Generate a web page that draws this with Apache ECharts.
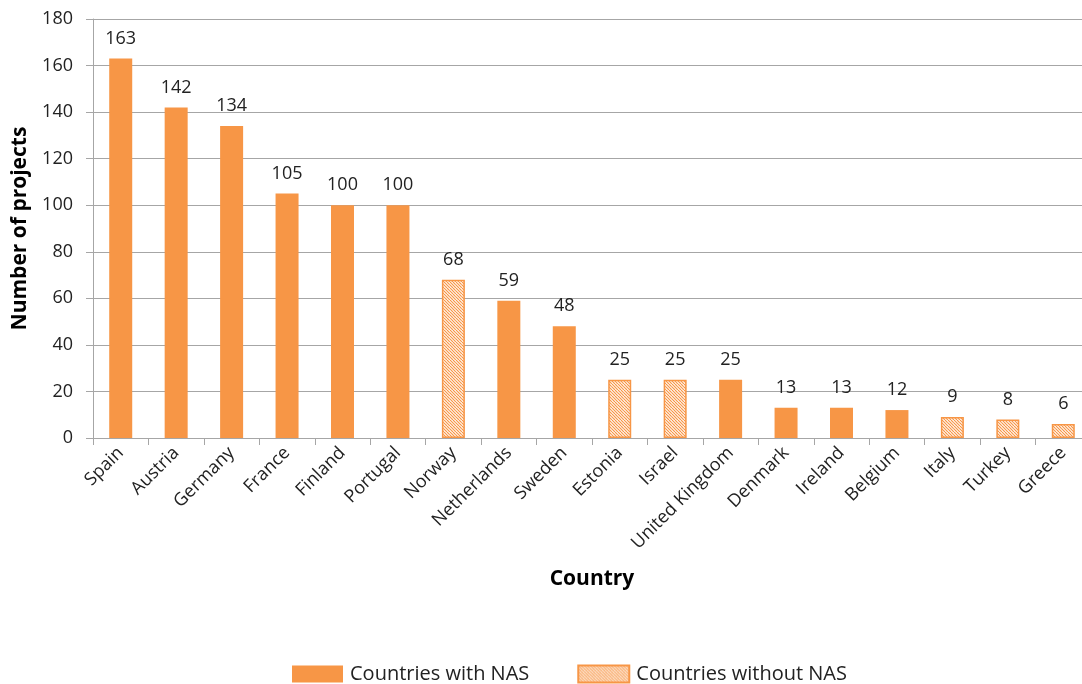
<!DOCTYPE html>
<html><head><meta charset="utf-8">
<script src="https://cdn.jsdelivr.net/npm/echarts@6/dist/echarts.min.js"></script>
<style>html,body{margin:0;padding:0;background:#fff;}#c{width:1082px;height:684px;}</style>
</head><body><div id="c"></div>
<script>
var categories = ['Spain','Austria','Germany','France','Finland','Portugal','Norway','Netherlands','Sweden','Estonia','Israel','United Kingdom','Denmark','Ireland','Belgium','Italy','Turkey','Greece'];
var withNAS = [163,142,134,105,100,100,'-',59,48,'-','-',25,13,13,12,'-','-','-'];
var withoutNAS = ['-','-','-','-','-','-',68,'-','-',25,25,'-','-','-','-',9,8,6];
var yTicks = [0,20,40,60,80,100,120,140,160,180];

var ORANGE = '#F79646';
var cv = document.createElement('canvas');
cv.width = 6; cv.height = 6;
var g = cv.getContext('2d');
g.fillStyle = '#fff'; g.fillRect(0,0,6,6);
g.strokeStyle = ORANGE; g.lineWidth = 1.2;
for (var k = -6; k <= 6; k += 3) { g.beginPath(); g.moveTo(k,0); g.lineTo(k+6,6); g.stroke(); }
var hatch = {image: cv, repeat: 'repeat'};

var FONT = 'Open Sans';
var chart = echarts.init(document.getElementById('c'));
chart.setOption({
  animation: false,
  textStyle: {fontFamily: FONT},
  grid: {left: 93, right: -9, top: 19, bottom: 246, containLabel: false, outerBoundsMode: 'none'},
  legend: {
    left: 287, top: 659, itemWidth: 51, itemHeight: 17, itemGap: 48, icon: 'rect',
    textStyle: {fontSize: 20, color: '#222', fontFamily: FONT, padding: [0,0,0,2]},
    data: ['Countries with NAS', 'Countries without NAS']
  },
  xAxis: {
    type: 'category', data: categories,
    name: 'Country', nameLocation: 'middle', nameGap: 131,
    nameTextStyle: {fontSize: 21, fontWeight: 'bold', color: '#000', fontFamily: FONT},
    axisLine: {lineStyle: {color: '#a6a6a6'}},
    axisTick: {show: true, length: 7, lineStyle: {color: '#a6a6a6'}},
    axisLabel: {rotate: 45, fontSize: 18, color: '#222', margin: 12, interval: 0}
  },
  yAxis: {
    type: 'value', min: 0, max: 180, interval: 20,
    name: 'Number of projects', nameLocation: 'middle', nameGap: 62, nameRotate: 90,
    nameTextStyle: {fontSize: 21, fontWeight: 'bold', color: '#000', fontFamily: FONT},
    axisLine: {show: true, lineStyle: {color: '#a6a6a6'}},
    axisTick: {show: true, length: 7, inside: false, lineStyle: {color: '#a6a6a6'}},
    splitLine: {lineStyle: {color: '#a6a6a6'}},
    axisLabel: {fontSize: 18, color: '#222', margin: 20,
      formatter: function(v){ return yTicks.indexOf(v) >= 0 ? String(v) : ''; }}
  },
  series: [
    {
      name: 'Countries with NAS', type: 'bar', stack: 's', data: withNAS, barWidth: 23,
      itemStyle: {color: ORANGE},
      label: {show: true, position: 'top', distance: 11, fontSize: 18, color: '#222', fontFamily: FONT}
    },
    {
      name: 'Countries without NAS', type: 'bar', stack: 's', data: withoutNAS, barWidth: 23,
      itemStyle: {color: hatch, borderColor: ORANGE, borderWidth: 1.5},
      label: {show: true, position: 'top', distance: 11, fontSize: 18, color: '#222', fontFamily: FONT}
    }
  ]
});
</script></body></html>
